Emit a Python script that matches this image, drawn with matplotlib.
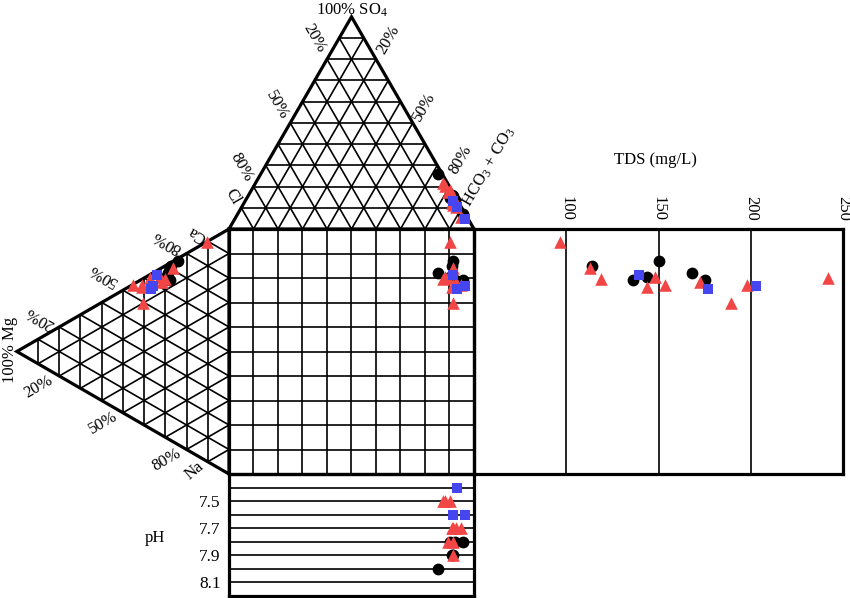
import numpy as np
import matplotlib
matplotlib.use("Agg")
import matplotlib.pyplot as plt

plt.rcParams['font.family'] = ['Liberation Serif', 'DejaVu Serif']
plt.rcParams['mathtext.fontset'] = 'custom'
plt.rcParams['mathtext.rm'] = 'Liberation Serif'
plt.rcParams['mathtext.it'] = 'Liberation Serif:italic'

# Sample data (6 black circles, 10 red triangles, 3 blue squares), % meq
group = ['c'] * 6 + ['t'] * 10 + ['s'] * 3
ca = [71.2, 65.3, 65.7, 75.0, 67.5, 64.1,
      89.6, 70.9, 64.5, 55.8, 64.3, 54.5, 62.6, 49.6, 56.6, 61.5,
      64.2, 57.0, 58.8]
mg = [27.4, 27.8, 29.7, 24.1, 28.8, 30.2,
      10.4, 26.4, 30.2, 41.0, 32.5, 45.3, 31.6, 40.6, 41.0, 37.3,
      34.0, 36.8, 35.8]
na = [1.4, 6.9, 4.6, 0.9, 3.7, 5.7,
      0.0, 2.7, 5.3, 3.2, 3.2, 0.2, 5.8, 9.8, 2.4, 1.2,
      1.8, 6.2, 5.3]
hco3 = [83.0, 85.4, 82.9, 83.5, 72.2, 91.9,
        81.0, 83.5, 76.5, 84.9, 78.0, 84.5, 87.5, 85.8, 91.9, 80.7,
        84.8, 87.9, 94.0]
so4 = [16.0, 13.7, 14.6, 15.6, 25.9, 7.1,
       18.4, 15.6, 21.7, 12.3, 20.3, 13.7, 10.4, 11.3, 5.7, 17.5,
       13.2, 10.4, 4.7]
cl = [1.0, 0.9, 2.5, 0.9, 1.9, 1.0,
      0.6, 0.9, 1.8, 2.8, 1.7, 1.8, 2.1, 2.9, 2.4, 1.8,
      2.0, 1.7, 1.3]
tds = [114, 136, 144, 150, 168, 175.3,
       96.4, 113, 119, 144, 148, 153.5, 172.6, 189.5, 197.7, 241.6,
       139.3, 177.1, 202.7]
ph = [7.9, 7.8, 7.8, 7.9, 8.0, 7.8,
      7.5, 7.7, 7.5, 7.7, 7.5, 7.8, 7.7, 7.9, 7.7, 7.8,
      7.6, 7.4, 7.6]

tds_ticks = [100, 150, 200, 250]
ph_ticks = [7.5, 7.7, 7.9, 8.1]

styles = {'c': dict(marker='o', color='black', s=72, zorder=5),
          't': dict(marker='^', color='#f24545', s=82, zorder=6),
          's': dict(marker='s', color='#4646f0', s=62, zorder=7)}

# geometry in pixels
W, Hpx = 850, 598
S0, S1 = 229.0, 474.0
L = S1 - S0
H = L * np.sqrt(3) / 2
TDS_RIGHT = 843
PH_BOTTOM = 596


def anion_xy(h, s, c):
    t = h + s + c
    return S0 + L * (h + s / 2) / t, S0 - H * s / t


def cation_xy(c, m, n):
    t = c + m + n
    return S0 - H * m / t, S0 + L * (n + m / 2) / t


ca, mg, na = np.array(ca), np.array(mg), np.array(na)
hco3, so4, cl = np.array(hco3), np.array(so4), np.array(cl)
ax_x, ax_y = anion_xy(hco3, so4, cl)
cx_x, cx_y = cation_xy(ca, mg, na)
group = np.array(group)

fig = plt.figure(figsize=(W / 100, Hpx / 100), dpi=100)
ax = fig.add_axes([0, 0, 1, 1])
ax.set_xlim(0, W)
ax.set_ylim(Hpx, 0)
ax.axis('off')

gl = dict(color='black', lw=1.2, zorder=1)
for k in range(1, 10):
    f = k * 10
    # top triangle
    for p, q in [((0, f, 100 - f), (100 - f, f, 0)),
                 ((f, 0, 100 - f), (f, 100 - f, 0)),
                 ((100 - f, 0, f), (0, 100 - f, f))]:
        a, b = anion_xy(*p), anion_xy(*q)
        ax.plot([a[0], b[0]], [a[1], b[1]], **gl)
    # left triangle
    for p, q in [((0, f, 100 - f), (100 - f, f, 0)),
                 ((f, 0, 100 - f), (f, 100 - f, 0)),
                 ((100 - f, 0, f), (0, 100 - f, f))]:
        a, b = cation_xy(*p), cation_xy(*q)
        ax.plot([a[0], b[0]], [a[1], b[1]], **gl)
    # square
    v = S0 + L * k / 10
    ax.plot([v, v], [S0, S1], **gl)
    ax.plot([S0, S1], [v, v], **gl)

ol = dict(color='black', lw=2.3, zorder=2, solid_joinstyle='miter')
apex_t = anion_xy(0, 100, 0)
apex_l = cation_xy(0, 100, 0)
ax.plot([S0, S1, apex_t[0], S0], [S0, S0, apex_t[1], S0], **ol)
ax.plot([S0, S0, apex_l[0], S0], [S0, S1, apex_l[1], S0], **ol)
ax.plot([S0, S1, S1, S0, S0], [S0, S0, S1, S1, S0], **ol)

for g in ['c', 't', 's']:
    m = group == g
    ax.scatter(ax_x[m], ax_y[m], linewidths=0, **styles[g])
    ax.scatter(cx_x[m], cx_y[m], linewidths=0, **styles[g])
    ax.scatter(ax_x[m], cx_y[m], linewidths=0, **styles[g])

fs = 12
labels = [
    ('100% SO$_4$', 352, 10, 0),
    ('20%', 314, 38, -60), ('50%', 277, 105, -60), ('80%', 241, 167, -60), ('Cl', 233, 197, -60),
    ('20%', 388, 40, 60), ('50%', 424, 107, 60), ('80%', 461, 160, 60),
    ('HCO$_3$ + CO$_3$', 489, 167, 60),
    ('20%', 40, 318, 150), ('50%', 103, 275, 150), ('80%', 167, 242, 150), ('Ca', 197, 234, 150),
    ('20%', 38, 387, 30), ('50%', 103, 423, 30), ('80%', 167, 460, 30), ('Na', 194, 471, 40),
    ('100% Mg', 10, 350, 90),
    ('TDS (mg/L)', 655, 160, 0),
    ('pH', 155, 538, 0),
]
for txt, x, y, r in labels:
    ax.text(x, y, txt, ha='center', va='center', rotation=r,
            rotation_mode='anchor', fontsize=fs)

# TDS box
tx = fig.add_axes([S1 / W, 1 - S1 / Hpx, (TDS_RIGHT - S1) / W, L / Hpx])
tx.set_facecolor('none')
tx.set_xlim(50, 250)
tx.set_ylim(S1, S0)
for v in tds_ticks[:-1]:
    tx.axvline(v, color='black', lw=1.2, zorder=1)
tx.set_xticks(tds_ticks)
tx.set_yticks([])
tx.tick_params(axis='x', top=True, labeltop=True, bottom=False, labelbottom=False,
               length=0, pad=6, labelsize=fs)
for lab in tx.get_xticklabels():
    lab.set_rotation(-90)
for sp in tx.spines.values():
    sp.set_linewidth(2.3)
for g in ['c', 't', 's']:
    m = group == g
    tx.scatter(np.array(tds)[m], cx_y[m], linewidths=0, clip_on=False, **styles[g])

# pH box
px = fig.add_axes([S0 / W, 1 - PH_BOTTOM / Hpx, L / W, (PH_BOTTOM - S1) / Hpx])
px.set_facecolor('none')
px.set_xlim(S0, S1)
px.set_ylim(8.2, 7.3)
for v in np.round(np.arange(7.4, 8.15, 0.1), 1):
    px.axhline(v, color='black', lw=1.2, zorder=1)
px.set_xticks([])
px.set_yticks(ph_ticks)
px.tick_params(axis='y', length=0, pad=6, labelsize=12.5)
for sp in px.spines.values():
    sp.set_linewidth(2.3)
for g in ['c', 't', 's']:
    m = group == g
    px.scatter(ax_x[m], np.array(ph)[m], linewidths=0, clip_on=False, **styles[g])

fig.savefig('out.png', dpi=100)
